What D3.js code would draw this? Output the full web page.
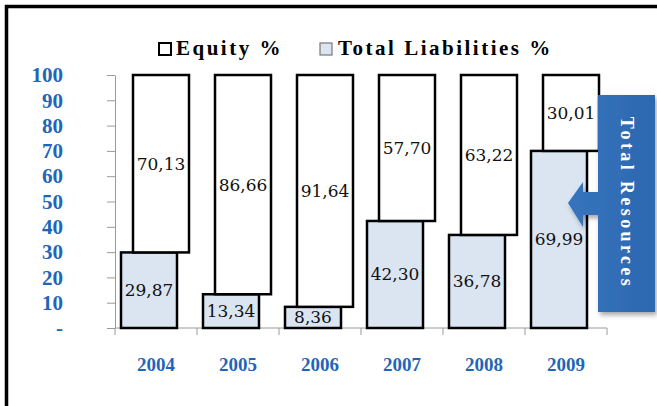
<!DOCTYPE html>
<html>
<head>
<meta charset="utf-8">
<script src="https://cdn.jsdelivr.net/npm/d3@7"></script>
<style>
  body { margin: 0; background: #fff; }
  svg { display: block; }
  .serif { font-family: "Liberation Serif", "DejaVu Serif", "Noto Serif", "Times New Roman", Times, serif; }
  .serif2 { font-family: "DejaVu Serif", "Liberation Serif", "Noto Serif", serif; }
</style>
</head>
<body>
<div id="chart"></div>
<script>
// data
const years = ["2004", "2005", "2006", "2007", "2008", "2009"];
const equity = [70.13, 86.66, 91.64, 57.70, 63.22, 30.01];
const liabilities = [29.87, 13.34, 8.36, 42.30, 36.78, 69.99];
const yTicks = [0, 10, 20, 30, 40, 50, 60, 70, 80, 90, 100];
const legendLabels = ["Equity %", "Total Liabilities %"];
const calloutText = "Total Resources";

const W = 657, H = 406;
const blue = "#1f66b8";
const liabFill = "#dbe5f1";

const svg = d3.select("#chart").append("svg")
  .attr("width", W)
  .attr("height", H);

// shadow + gradient for the callout
const defs = svg.append("defs");
const grad = defs.append("linearGradient").attr("id", "callGrad")
  .attr("x1", "0").attr("x2", "1").attr("y1", "0").attr("y2", "0");
grad.append("stop").attr("offset", "0%").attr("stop-color", "#3674bd");
grad.append("stop").attr("offset", "100%").attr("stop-color", "#2c68b0");
const f = defs.append("filter").attr("id", "shadow")
  .attr("x", "-20%").attr("y", "-10%").attr("width", "150%").attr("height", "130%");
f.append("feDropShadow").attr("dx", 2).attr("dy", 3).attr("stdDeviation", 2.5)
  .attr("flood-color", "#000").attr("flood-opacity", 0.35);

// frame (only top and left edges are visible)
svg.append("path")
  .attr("d", "M6.5," + H + " V6.5 H" + W)
  .attr("fill", "none")
  .attr("stroke", "#000")
  .attr("stroke-width", 3.5);

const x = d3.scaleBand()
  .domain(years)
  .range([115, 607]);

const y = d3.scaleLinear()
  .domain([0, 100])
  .range([328, 75]);

const barW = 56;

// y axis
const yAxis = svg.append("g")
  .attr("transform", "translate(115,0)")
  .call(d3.axisLeft(y)
    .tickValues(yTicks)
    .tickSize(8)
    .tickSizeOuter(0)
    .tickPadding(44)
    .tickFormat(d => d === 0 ? "-" : d));
yAxis.attr("font-family", null);
yAxis.select(".domain").attr("stroke", "#9a9a9a");
yAxis.selectAll(".tick line").attr("stroke", "#9a9a9a");
yAxis.selectAll(".tick text")
  .attr("class", "serif")
  .attr("fill", blue)
  .style("font-weight", "bold")
  .style("font-size", "21px");

// baseline and category separator ticks
svg.append("line")
  .attr("x1", x.range()[0]).attr("x2", x.range()[1])
  .attr("y1", y(0)).attr("y2", y(0))
  .attr("stroke", "#9a9a9a");
const bounds = [x.range()[0]].concat(years.map(d => x(d) + x.bandwidth()));
svg.selectAll(".sep")
  .data(bounds)
  .enter()
  .append("line")
  .attr("class", "sep")
  .attr("x1", d => d).attr("x2", d => d)
  .attr("y1", y(0)).attr("y2", y(0) + 7)
  .attr("stroke", "#9a9a9a");

// x axis labels
const xAxis = svg.append("g")
  .attr("transform", "translate(0," + y(0) + ")")
  .call(d3.axisBottom(x).tickSize(0).tickPadding(30));
xAxis.attr("font-family", null);
xAxis.select(".domain").remove();
xAxis.selectAll(".tick text")
  .attr("class", "serif")
  .attr("fill", blue)
  .style("font-weight", "bold")
  .style("font-size", "19px");

const fmt = v => v.toFixed(2).replace(".", ",");

// liabilities bars
svg.selectAll(".liab")
  .data(years)
  .enter()
  .append("rect")
  .attr("class", "liab")
  .attr("x", d => x(d) + 6)
  .attr("y", (d, i) => y(liabilities[i]))
  .attr("width", barW)
  .attr("height", (d, i) => y(0) - y(liabilities[i]))
  .attr("fill", liabFill)
  .attr("stroke", "#000")
  .attr("stroke-width", 2.5);

// equity bars stacked on top
svg.selectAll(".eq")
  .data(years)
  .enter()
  .append("rect")
  .attr("class", "eq")
  .attr("x", d => x(d) + 18)
  .attr("y", (d, i) => y(liabilities[i] + equity[i]))
  .attr("width", barW)
  .attr("height", (d, i) => y(liabilities[i]) - y(liabilities[i] + equity[i]))
  .attr("fill", "#fff")
  .attr("stroke", "#000")
  .attr("stroke-width", 2.5);

// value labels
const labelStyle = sel => sel
  .attr("text-anchor", "middle")
  .attr("dominant-baseline", "central")
  .attr("fill", "#111")
  .style("font-size", "17px");

svg.selectAll(".liabLbl")
  .data(years)
  .enter()
  .append("text")
  .attr("class", "liabLbl serif2")
  .attr("x", d => x(d) + 6 + barW / 2)
  .attr("y", (d, i) => (y(0) + y(liabilities[i])) / 2)
  .text((d, i) => fmt(liabilities[i]))
  .call(labelStyle);

svg.selectAll(".eqLbl")
  .data(years)
  .enter()
  .append("text")
  .attr("class", "eqLbl serif2")
  .attr("x", d => x(d) + 18 + barW / 2)
  .attr("y", (d, i) => (y(liabilities[i]) + y(liabilities[i] + equity[i])) / 2)
  .text((d, i) => fmt(equity[i]))
  .call(labelStyle);

// legend
const legend = svg.append("g");
const legX = [159, 320];
const legTx = [176, 338];
legend.selectAll("rect")
  .data(legendLabels)
  .enter()
  .append("rect")
  .attr("x", (d, i) => legX[i])
  .attr("y", 43)
  .attr("width", 12)
  .attr("height", 12)
  .attr("fill", (d, i) => i === 0 ? "#fff" : liabFill)
  .attr("stroke", (d, i) => i === 0 ? "#000" : "#777")
  .attr("stroke-width", (d, i) => i === 0 ? 2 : 1.2);
legend.selectAll("text")
  .data(legendLabels)
  .enter()
  .append("text")
  .attr("class", "serif")
  .attr("x", (d, i) => legTx[i])
  .attr("y", 55)
  .attr("fill", "#000")
  .style("font-weight", "bold")
  .style("font-size", "21px")
  .style("letter-spacing", "2.5px")
  .text(d => d);

// callout pointing at the 2009 bar
const call = svg.append("g").attr("filter", "url(#shadow)");
call.append("path")
  .attr("d", "M598,95 H655 V312 H598 V215 H583 V227 L568,203 L583,182 V192 H598 Z")
  .attr("fill", "url(#callGrad)");
svg.append("text")
  .attr("class", "serif")
  .attr("transform", "translate(627,203) rotate(90)")
  .attr("text-anchor", "middle")
  .attr("dominant-baseline", "central")
  .attr("fill", "#fff")
  .style("font-weight", "bold")
  .style("font-size", "18px")
  .style("letter-spacing", "3.4px")
  .text(calloutText);
</script>
</body>
</html>
